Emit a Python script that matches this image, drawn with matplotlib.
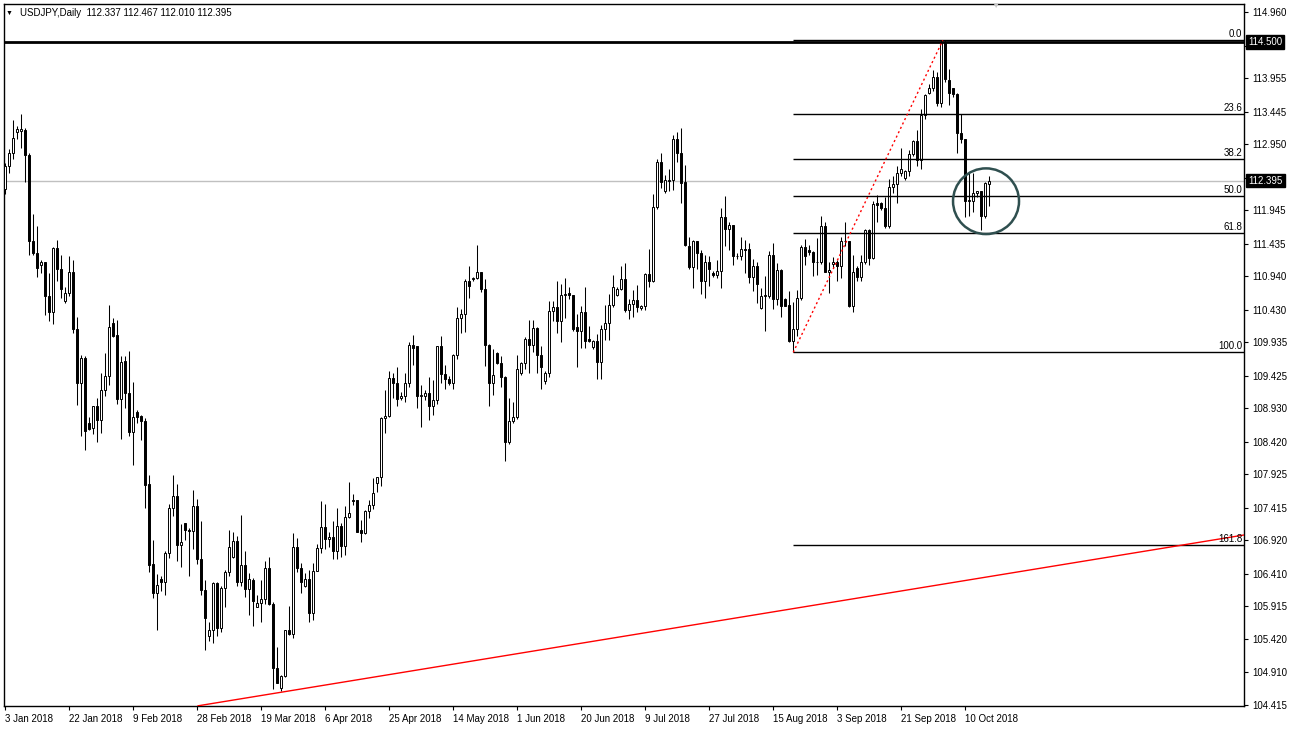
import numpy as np
import pandas as pd
import matplotlib
matplotlib.use("Agg")
import matplotlib.pyplot as plt
from matplotlib.patches import Ellipse

plt.rcParams["font.family"] = ["Liberation Sans", "DejaVu Sans"]

# USDJPY daily bars (broker has Sunday sessions), 3 Jan - 17 Oct 2018
dates = pd.date_range("2018-01-03", "2018-10-17", freq="D")
dates = dates[dates.dayofweek != 5]

opens = [
    112.26, 112.62, 112.81, 113.13, 113.155, 113.17, 112.78, 111.47, 111.29, 111.11,
    111.15, 110.63, 110.40, 111.37, 111.05, 110.56, 110.69, 111.00, 110.13, 109.32,
    109.69, 108.70, 108.63, 108.97, 108.75, 109.21, 109.42, 110.22, 110.05, 109.07,
    109.65, 109.16, 108.56, 108.87, 108.81, 108.74, 107.78, 106.56, 106.11, 106.33,
    106.28, 106.72, 107.41, 107.59, 106.84, 107.18, 107.08, 107.06, 107.44, 106.63,
    106.17, 105.46, 105.56, 106.27, 105.58, 106.19, 106.43, 106.66, 106.91, 106.29,
    106.55, 106.18, 106.32, 105.91, 105.96, 106.02, 106.49, 105.95, 104.97, 104.67,
    104.85, 105.55, 105.49, 106.81, 106.49, 106.22, 106.33, 105.81, 106.45, 106.80,
    107.12, 106.94, 106.97, 106.76, 107.13, 106.83, 107.27, 107.53, 107.53, 107.08,
    107.03, 107.37, 107.46, 107.79, 107.89, 108.78, 108.81, 109.39, 109.31, 109.08,
    109.11, 109.32, 109.89, 109.87, 109.11, 109.12, 109.16, 108.96, 109.06, 109.87,
    109.45, 109.37, 109.32, 109.74, 110.30, 110.37, 110.86, 110.89, 110.91, 111.01,
    110.74, 109.89, 109.32, 109.77, 109.62, 109.41, 108.41, 108.73, 108.79, 109.46,
    109.62, 109.98, 109.89, 110.15, 109.74, 109.34, 109.46, 110.41, 110.47, 110.25,
    110.65, 110.69, 110.65, 110.16, 110.10, 110.40, 109.98, 109.86, 109.95, 109.64,
    110.14, 110.22, 110.50, 110.65, 110.74, 110.89, 110.42, 110.51, 110.58, 110.45,
    110.48, 110.97, 110.86, 111.99, 112.67, 112.23, 112.39, 112.41, 113.02, 112.81,
    112.38, 111.40, 111.08, 111.47, 111.29, 110.86, 111.16, 110.99, 110.96, 111.02,
    111.84, 111.65, 111.72, 111.24, 111.25, 111.36, 111.36, 110.92, 111.10, 110.45,
    110.64, 110.64, 111.26, 110.59, 111.03, 110.59, 110.50, 109.96, 110.13, 110.60,
    111.38, 111.34, 111.31, 111.15, 111.16, 111.70, 111.01, 111.13, 111.16, 111.09,
    111.47, 111.47, 110.49, 111.06, 110.93, 111.15, 111.64, 111.22, 112.05, 112.05,
    111.97, 111.70, 112.29, 112.34, 112.51, 112.44, 112.54, 112.80, 113.00, 112.71,
    113.40, 113.73, 113.81, 113.97, 113.57, 114.49, 113.92, 113.80, 113.71, 113.12,
    113.02, 112.09, 112.09, 112.20, 112.23, 111.85, 112.337,
]
highs = [
    112.66, 112.87, 113.32, 113.22, 113.41, 113.19, 112.81, 111.89, 111.71, 111.19,
    111.16, 110.99, 111.39, 111.49, 111.26, 110.78, 111.24, 111.18, 110.32, 109.74,
    109.72, 108.80, 108.97, 109.08, 109.46, 109.77, 110.50, 110.30, 110.27, 109.73,
    109.72, 109.80, 109.33, 108.90, 108.83, 108.78, 107.92, 106.92, 106.41, 106.38,
    106.76, 107.47, 107.92, 107.78, 107.16, 107.19, 107.10, 107.69, 107.55, 107.22,
    106.31, 105.68, 106.29, 106.29, 106.22, 106.46, 107.07, 107.04, 106.98, 107.31,
    106.76, 106.42, 106.34, 106.09, 106.32, 106.60, 106.66, 105.98, 105.29, 104.87,
    105.56, 105.92, 107.03, 106.95, 106.58, 106.42, 106.47, 106.58, 106.86, 107.51,
    107.47, 107.04, 107.22, 107.41, 107.18, 107.44, 107.80, 107.63, 107.54, 107.23,
    107.38, 107.54, 107.86, 107.89, 108.80, 109.21, 109.49, 109.47, 109.56, 109.18,
    109.46, 109.94, 110.05, 109.88, 109.28, 109.21, 109.41, 109.36, 109.88, 110.03,
    109.59, 109.42, 109.76, 110.47, 110.44, 110.89, 111.09, 110.93, 111.41, 111.01,
    110.89, 109.90, 109.83, 109.78, 109.72, 109.42, 109.08, 109.02, 109.74, 109.63,
    110.01, 110.27, 110.27, 110.17, 109.87, 109.50, 110.56, 110.56, 110.87, 110.82,
    110.91, 110.77, 110.66, 110.37, 110.48, 110.78, 110.18, 109.97, 110.06, 110.20,
    110.50, 110.67, 110.96, 110.77, 111.09, 111.14, 110.59, 110.73, 110.81, 110.50,
    110.99, 111.36, 112.19, 112.72, 112.81, 112.48, 112.57, 113.09, 113.14, 113.19,
    112.63, 111.54, 111.49, 111.48, 111.34, 111.26, 111.25, 111.02, 111.19, 111.97,
    112.16, 111.76, 111.72, 111.29, 111.54, 111.49, 111.45, 111.20, 111.16, 110.76,
    110.94, 111.32, 111.45, 111.14, 111.05, 110.60, 110.71, 110.55, 110.73, 111.41,
    111.50, 111.41, 111.33, 111.52, 111.85, 111.77, 111.15, 111.23, 111.19, 111.54,
    111.76, 111.48, 111.26, 111.10, 111.26, 111.65, 111.65, 112.08, 112.18, 112.07,
    112.14, 112.42, 112.47, 112.61, 112.89, 112.56, 112.86, 113.01, 113.16, 113.48,
    113.71, 113.87, 114.08, 114.04, 114.54, 114.53, 114.10, 113.81, 113.72, 113.41,
    113.03, 112.51, 112.51, 112.24, 112.24, 112.38, 112.467,
]
lows = [
    112.19, 112.51, 112.73, 113.02, 112.89, 112.38, 111.26, 111.26, 110.92, 110.99,
    110.35, 110.25, 110.21, 110.86, 110.60, 110.53, 110.63, 110.07, 108.98, 108.51,
    108.30, 108.60, 108.53, 108.42, 108.55, 109.11, 109.29, 110.02, 109.00, 108.46,
    108.93, 108.50, 108.06, 108.71, 108.44, 107.41, 106.43, 106.04, 105.56, 106.14,
    106.09, 106.65, 107.29, 106.60, 106.52, 106.92, 106.38, 106.79, 106.56, 106.08,
    105.25, 105.38, 105.36, 105.46, 105.52, 105.90, 106.37, 106.65, 106.23, 106.22,
    106.06, 105.78, 105.61, 105.91, 105.68, 105.95, 105.94, 104.65, 104.74, 104.63,
    104.84, 105.48, 105.43, 106.43, 106.12, 106.21, 105.67, 105.71, 106.45, 106.72,
    106.78, 106.81, 106.63, 106.63, 106.66, 106.70, 107.26, 107.46, 107.04, 106.89,
    107.01, 107.26, 107.39, 107.66, 107.74, 108.55, 108.80, 109.08, 108.96, 109.05,
    109.03, 109.26, 109.59, 108.94, 108.65, 109.05, 108.75, 108.83, 109.00, 109.32,
    109.22, 109.29, 109.22, 109.68, 110.08, 110.09, 110.61, 110.87, 110.89, 110.70,
    109.57, 108.96, 109.13, 109.60, 109.25, 108.12, 108.39, 108.70, 108.76, 109.44,
    109.52, 109.47, 109.79, 109.47, 109.22, 109.30, 109.40, 110.25, 110.08, 109.93,
    110.30, 110.59, 110.11, 109.55, 109.84, 109.84, 109.93, 109.83, 109.37, 109.37,
    109.97, 109.97, 110.47, 110.64, 110.73, 110.40, 110.28, 110.32, 110.40, 110.42,
    110.42, 110.78, 110.85, 111.96, 112.28, 112.21, 112.23, 112.25, 112.67, 112.06,
    111.40, 111.05, 110.76, 111.05, 110.67, 110.60, 110.79, 110.92, 110.91, 110.76,
    111.40, 111.34, 111.11, 111.20, 111.18, 110.99, 110.84, 110.71, 110.53, 110.44,
    110.11, 110.60, 110.44, 110.50, 110.32, 110.48, 109.93, 109.78, 110.03, 110.57,
    111.11, 111.26, 110.94, 110.96, 111.13, 111.00, 110.69, 111.06, 110.86, 110.91,
    111.40, 110.47, 110.39, 110.87, 110.86, 111.13, 111.11, 111.20, 111.76, 111.94,
    111.68, 111.67, 112.21, 112.05, 112.47, 112.41, 112.46, 112.77, 112.62, 112.57,
    113.33, 113.71, 113.76, 113.53, 113.52, 113.90, 113.55, 113.67, 112.82, 112.96,
    111.84, 111.85, 111.91, 112.15, 111.64, 111.83, 112.010,
]
closes = [
    112.62, 112.81, 113.04, 113.18, 113.175, 112.78, 111.47, 111.29, 111.06, 111.15,
    110.63, 110.40, 111.37, 111.05, 110.74, 110.69, 111.00, 110.13, 109.32, 109.69,
    108.58, 108.61, 108.97, 108.75, 109.21, 109.42, 110.17, 110.03, 109.07, 109.64,
    109.16, 108.56, 108.79, 108.80, 108.74, 107.76, 106.55, 106.11, 106.24, 106.28,
    106.72, 107.41, 107.59, 106.84, 106.89, 107.08, 107.06, 107.44, 106.63, 106.17,
    105.74, 105.56, 106.27, 105.58, 106.19, 106.43, 106.81, 106.91, 106.29, 106.55,
    106.18, 106.33, 106.00, 105.96, 106.02, 106.49, 105.95, 104.97, 104.75, 104.85,
    105.55, 105.49, 106.81, 106.49, 106.28, 106.33, 105.81, 106.45, 106.80, 107.12,
    106.94, 106.97, 106.76, 107.13, 106.83, 107.27, 107.33, 107.51, 107.05, 107.03,
    107.37, 107.46, 107.64, 107.89, 108.78, 108.81, 109.39, 109.31, 109.07, 109.11,
    109.32, 109.89, 109.85, 109.11, 109.13, 109.16, 108.96, 109.06, 109.87, 109.45,
    109.37, 109.32, 109.74, 110.30, 110.37, 110.86, 110.79, 110.91, 111.01, 110.74,
    109.89, 109.32, 109.44, 109.62, 109.41, 108.41, 108.73, 108.79, 109.52, 109.62,
    109.99, 109.89, 110.15, 109.74, 109.55, 109.46, 110.41, 110.47, 110.25, 110.65,
    110.67, 110.65, 110.14, 110.10, 110.40, 109.96, 109.96, 109.95, 109.64, 110.14,
    110.22, 110.50, 110.77, 110.74, 110.89, 110.42, 110.51, 110.58, 110.47, 110.48,
    110.97, 110.86, 111.99, 112.67, 112.38, 112.41, 112.41, 113.02, 112.81, 112.36,
    111.42, 111.08, 111.47, 111.29, 110.86, 111.16, 111.05, 110.96, 111.02, 111.84,
    111.65, 111.72, 111.24, 111.25, 111.35, 111.34, 110.92, 111.10, 110.82, 110.64,
    110.65, 111.26, 110.59, 111.03, 110.48, 110.49, 109.96, 110.13, 110.60, 111.38,
    111.25, 111.30, 111.15, 111.16, 111.70, 111.01, 111.04, 111.16, 111.09, 111.47,
    111.48, 110.49, 111.00, 110.93, 111.15, 111.64, 111.22, 112.04, 112.03, 111.97,
    111.70, 112.29, 112.34, 112.51, 112.57, 112.54, 112.80, 113.00, 112.71, 113.40,
    113.70, 113.81, 113.97, 113.57, 114.49, 113.94, 113.72, 113.71, 113.12, 113.02,
    112.09, 112.10, 112.20, 112.23, 111.85, 112.35, 112.395,
]

price_ticks = [114.960, 114.450, 113.955, 113.445, 112.950, 112.440, 111.945,
               111.435, 110.940, 110.430, 109.935, 109.425, 108.930, 108.420,
               107.925, 107.415, 106.920, 106.410, 105.915, 105.420, 104.910,
               104.415]

# drawn objects on the chart
hline_price = 114.500
bid_price = 112.395
fib_low_bar, fib_low = 197, 109.78
fib_high_bar, fib_high = 234.4, 114.53
fib_levels = [0.0, 23.6, 38.2, 50.0, 61.8, 100.0, 161.8]
trend_bars = [48.2, 309.7]
trend_prices = [104.40, 107.00]
circle_bar, circle_price = 245.2, 112.08

o, h, l, c = (np.array(v) for v in (opens, highs, lows, closes))
x = np.arange(len(dates))
up = c >= o

fig = plt.figure(figsize=(12.9, 7.3), dpi=100)
ax = fig.add_axes([4 / 1290, 24 / 730, 1240 / 1290, 702 / 730])
x_right = 309.7
ax.set_xlim(-0.33, x_right)
ax.set_ylim(104.397, 115.082)

# candles
ax.vlines(x, l, h, color="black", lw=0.75, zorder=2)
lo = np.minimum(o, c)
hgt = np.maximum(np.abs(c - o), 0.01)
ax.bar(x[up], hgt[up], bottom=lo[up], width=0.5, color="white",
       edgecolor="black", lw=0.7, zorder=3)
ax.bar(x[~up], hgt[~up], bottom=lo[~up], width=0.5, color="black",
       edgecolor="black", lw=0.7, zorder=3)

# horizontal line + bid line
ax.axhline(hline_price, color="black", lw=2, zorder=4)
ax.axhline(bid_price, color="#c0c0c0", lw=1, zorder=1)

# fibonacci retracement
rng = fib_high - fib_low
for lev in fib_levels:
    p = fib_high - rng * lev / 100
    ax.hlines(p, fib_low_bar, x_right, color="black", lw=1, zorder=4)
    ax.text(0.9985, p + 0.02, f"{lev:.1f}", transform=ax.get_yaxis_transform(),
            ha="right", va="bottom", fontsize=7, zorder=5)
ax.plot([fib_low_bar, fib_high_bar], [fib_low, fib_high], color="red",
        lw=1, ls=(0, (1.5, 2)), zorder=4)

# trend line and circle
ax.plot(trend_bars, trend_prices, color="red", lw=1, zorder=4)
ax.add_patch(Ellipse((circle_bar, circle_price), 16.5, 1.0, fill=False,
                     edgecolor="#2f4f4f", lw=1.8, zorder=5))

# axes styling (labels hidden behind the price boxes are left blank)
covered = (114.450, 112.440)
ax.yaxis.tick_right()
ax.set_yticks(price_ticks)
ax.set_yticklabels(["" if v in covered else f"{v:.3f}" for v in price_ticks])
tick_idx = x[::16]
ax.set_xticks(tick_idx)
ax.set_xticklabels([f"{dates[i].day} {dates[i]:%b %Y}" for i in tick_idx])
for lbl in ax.get_xticklabels():
    lbl.set_horizontalalignment("left")
ax.tick_params(axis="both", labelsize=7, length=3, width=0.8, color="black")
ax.tick_params(axis="y", pad=3)
ax.tick_params(axis="x", pad=3)
for s in ax.spines.values():
    s.set_linewidth(1)

# price boxes on the axis
for p in (hline_price, bid_price):
    ax.text(1.0035, p, f"{p:.3f}", transform=ax.get_yaxis_transform(),
            ha="left", va="center", fontsize=7, color="white", zorder=10,
            clip_on=False,
            bbox=dict(boxstyle="square,pad=0.2", fc="black", ec="black"))

# header
fig.text(6 / 1290, 1 - 13 / 730, "\u25bc", fontsize=5, va="center")
fig.text(20 / 1290, 1 - 13 / 730,
         "USDJPY,Daily  112.337 112.467 112.010 112.395",
         fontsize=7, va="center")
fig.text(995 / 1290, 1 - 6 / 730, "\u25bc", fontsize=6, color="#c8c8c8",
         ha="center", va="center")

fig.savefig("out.png", dpi=100)
